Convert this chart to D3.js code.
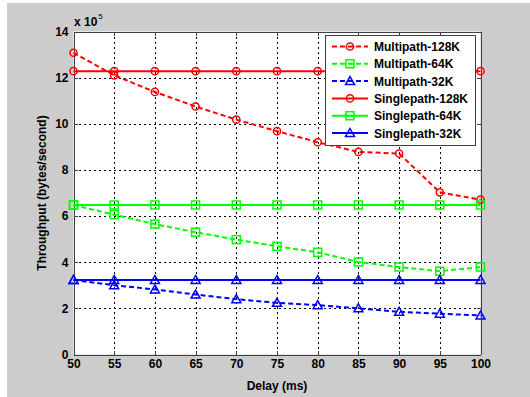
<!DOCTYPE html>
<meta charset="utf-8">
<style>
	body { margin: 0; background: #fff; }
	text { font-family: "Liberation Sans", Arial, sans-serif; font-weight: bold; fill: #000; }
	.grid line { stroke: #000; stroke-width: 1; stroke-dasharray: 2,3; shape-rendering: crispEdges; }
	.axis path, .axis line { stroke: #404040; shape-rendering: crispEdges; }
</style>

<div class="chart"></div>

<script src="https://d3js.org/d3.v7.min.js"></script>

<script>
	// delay in ms
	var delays = [50, 55, 60, 65, 70, 75, 80, 85, 90, 95, 100];

	// throughput in bytes/second
	var multi128 = [1308000, 1210000, 1138000, 1075000, 1018000, 968000, 920000, 878000, 871000, 703000, 671000];
	var multi64 = [648000, 606000, 565000, 530000, 498000, 469000, 443000, 401000, 379000, 361000, 379000];
	var multi32 = [323000, 300000, 282000, 260000, 240000, 224000, 214000, 200000, 185000, 177000, 169000];
	var single128 = [1228000, 1228000, 1228000, 1228000, 1228000, 1228000, 1228000, 1228000, 1228000, 1228000, 1228000];
	var single64 = [648000, 648000, 648000, 648000, 648000, 648000, 648000, 648000, 648000, 648000, 648000];
	var single32 = [323000, 323000, 323000, 323000, 323000, 323000, 323000, 323000, 323000, 323000, 323000];

	var xTicks = [50, 55, 60, 65, 70, 75, 80, 85, 90, 95, 100];
	var yTicks = [0, 200000, 400000, 600000, 800000, 1000000, 1200000, 1400000];

	var series = [
		{name: "Multipath-128K", values: multi128, color: "#ff0000", dash: "5,3", marker: "circle"},
		{name: "Multipath-64K", values: multi64, color: "#00ff00", dash: "5,3", marker: "square"},
		{name: "Multipath-32K", values: multi32, color: "#0000ff", dash: "5,3", marker: "triangle"},
		{name: "Singlepath-128K", values: single128, color: "#ff0000", dash: null, marker: "circle"},
		{name: "Singlepath-64K", values: single64, color: "#00ff00", dash: null, marker: "square"},
		{name: "Singlepath-32K", values: single32, color: "#0000ff", dash: null, marker: "triangle"}
	];

	var W = 530, H = 397;
	var pLeft = 73.5, pRight = 480.5, pTop = 31.5, pBottom = 354.5;

	var svg = d3.select(".chart").append("svg")
			.attr("width", W)
			.attr("height", H);

	svg.append("rect")
			.attr("x", 7).attr("y", 3)
			.attr("width", W - 7).attr("height", H - 3)
			.attr("fill", "#cccccc");

	var x = d3.scaleLinear().domain([50, 100]).range([pLeft, pRight]);
	var y = d3.scaleLinear().domain([0, 1400000]).range([pBottom, pTop]);

	svg.append("rect")
			.attr("x", pLeft).attr("y", pTop)
			.attr("width", pRight - pLeft).attr("height", pBottom - pTop)
			.attr("fill", "#fff");

	// dotted grid
	var grid = svg.append("g").attr("class", "grid");
	grid.selectAll(".vx").data(xTicks.slice(1, -1)).enter().append("line")
			.attr("x1", function(d) { return Math.round(x(d)) + 0.5; })
			.attr("x2", function(d) { return Math.round(x(d)) + 0.5; })
			.attr("y1", pTop).attr("y2", pBottom);
	grid.selectAll(".hy").data(yTicks.slice(1, -1)).enter().append("line")
			.attr("y1", function(d) { return Math.round(y(d)) + 0.5; })
			.attr("y2", function(d) { return Math.round(y(d)) + 0.5; })
			.attr("x1", pLeft).attr("x2", pRight);

	// axes, ticks inside
	var fmt = function(d) { return d / 100000; };
	svg.append("g").attr("class", "axis")
			.attr("transform", "translate(0," + pBottom + ")")
			.call(d3.axisBottom(x).tickValues(xTicks).tickSizeInner(-4).tickSizeOuter(0).tickPadding(5))
			.selectAll("text").style("font-size", "12px");
	svg.append("g").attr("class", "axis")
			.attr("transform", "translate(0," + pTop + ")")
			.call(d3.axisTop(x).tickValues(xTicks).tickSizeInner(-4).tickSizeOuter(0).tickFormat(""));
	svg.append("g").attr("class", "axis")
			.attr("transform", "translate(" + pLeft + ",0)")
			.call(d3.axisLeft(y).tickValues(yTicks).tickFormat(fmt).tickSizeInner(-4).tickSizeOuter(0).tickPadding(5))
			.selectAll("text").style("font-size", "12px");
	svg.append("g").attr("class", "axis")
			.attr("transform", "translate(" + pRight + ",0)")
			.call(d3.axisRight(y).tickValues(yTicks).tickSizeInner(-4).tickSizeOuter(0).tickFormat(""));

	// exponent label
	var expo = svg.append("text").attr("x", 74).attr("y", 26).style("font-size", "12px");
	expo.append("tspan").text("x 10");
	expo.append("tspan").attr("dx", 1).attr("dy", -7).style("font-size", "8px").style("font-weight", "normal").text("5");

	svg.append("text")
			.attr("x", (pLeft + pRight) / 2).attr("y", 390)
			.attr("text-anchor", "middle")
			.style("font-size", "12px")
			.text("Delay (ms)");

	svg.append("text")
			.attr("transform", "translate(46," + ((pTop + pBottom) / 2) + ") rotate(-90)")
			.attr("text-anchor", "middle")
			.style("font-size", "12px")
			.text("Throughput (bytes/second)");

	function drawMarker(g, type, color) {
		if (type === "circle") {
			g.append("circle").attr("r", 3.6);
		} else if (type === "square") {
			g.append("rect").attr("x", -4).attr("y", -4).attr("width", 8).attr("height", 8);
		} else {
			g.append("path").attr("d", "M0,-4.5L4.5,3.5L-4.5,3.5Z");
		}
		g.selectAll("*").attr("fill", "none").attr("stroke", color).attr("stroke-width", 1.5);
	}

	var line = d3.line()
			.x(function(d, i) { return x(delays[i]); })
			.y(function(d) { return y(d); });

	series.forEach(function(s) {
		var g = svg.append("g");
		g.append("path")
				.attr("d", line(s.values))
				.attr("fill", "none")
				.attr("stroke", s.color)
				.attr("stroke-width", 2)
				.attr("stroke-dasharray", s.dash);
		s.values.forEach(function(v, i) {
			var m = g.append("g").attr("transform", "translate(" + x(delays[i]) + "," + y(v) + ")");
			drawMarker(m, s.marker, s.color);
		});
	});

	// legend
	var lg = svg.append("g");
	lg.append("rect")
			.attr("x", 325.5).attr("y", 35.5)
			.attr("width", 150).attr("height", 110)
			.attr("fill", "#fff")
			.attr("stroke", "#404040");
	series.forEach(function(s, i) {
		var ly = 46.5 + i * 17.3;
		lg.append("line")
				.attr("x1", 332).attr("x2", 368)
				.attr("y1", ly).attr("y2", ly)
				.attr("stroke", s.color)
				.attr("stroke-width", 2)
				.attr("stroke-dasharray", s.dash);
		drawMarker(lg.append("g").attr("transform", "translate(350," + ly + ")"), s.marker, s.color);
		lg.append("text")
				.attr("x", 374).attr("y", ly + 4.5)
				.style("font-size", "12px")
				.text(s.name);
	});
</script>
